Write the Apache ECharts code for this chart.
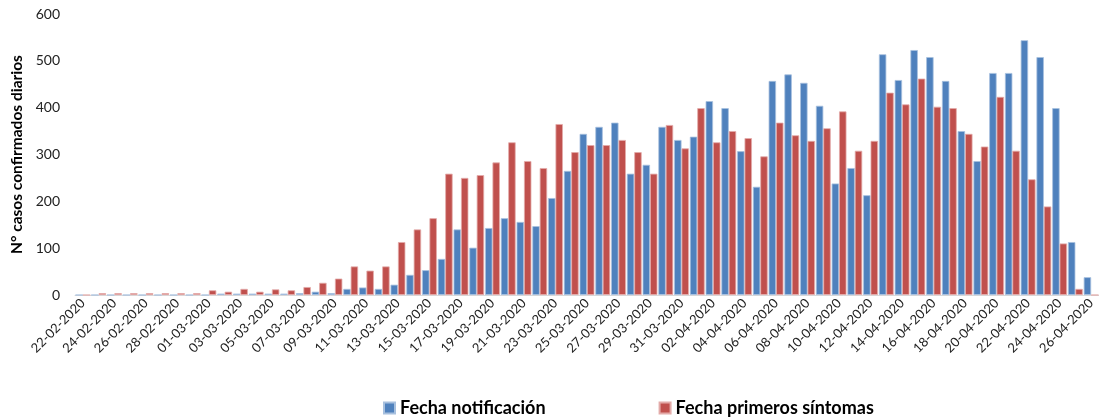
<!DOCTYPE html>
<html>
<head>
<meta charset="utf-8">
<script src="https://cdn.jsdelivr.net/npm/echarts@6/dist/echarts.min.js"></script>
<style>
html,body{margin:0;padding:0;background:#fff;}
#chart{width:1099px;height:419px;}
</style>
</head>
<body>
<div id="chart"></div>
<script>
const categories = [
'22-02-2020','23-02-2020','24-02-2020','25-02-2020','26-02-2020','27-02-2020','28-02-2020','29-02-2020',
'01-03-2020','02-03-2020','03-03-2020','04-03-2020','05-03-2020','06-03-2020','07-03-2020','08-03-2020',
'09-03-2020','10-03-2020','11-03-2020','12-03-2020','13-03-2020','14-03-2020','15-03-2020','16-03-2020',
'17-03-2020','18-03-2020','19-03-2020','20-03-2020','21-03-2020','22-03-2020','23-03-2020','24-03-2020',
'25-03-2020','26-03-2020','27-03-2020','28-03-2020','29-03-2020','30-03-2020','31-03-2020',
'01-04-2020','02-04-2020','03-04-2020','04-04-2020','05-04-2020','06-04-2020','07-04-2020','08-04-2020',
'09-04-2020','10-04-2020','11-04-2020','12-04-2020','13-04-2020','14-04-2020','15-04-2020','16-04-2020',
'17-04-2020','18-04-2020','19-04-2020','20-04-2020','21-04-2020','22-04-2020','23-04-2020','24-04-2020',
'25-04-2020','26-04-2020'
];
const fechaNotificacion = [
0,0,0,0,0,0,0,0,
0,3,3,3,3,3,4,7,
4,13,16,13,22,43,53,77,
140,101,143,164,156,147,207,265,
344,359,368,259,278,359,331,
338,414,399,307,231,457,471,453,
404,238,271,213,514,459,523,508,
457,350,286,474,474,544,508,399,
113,38
];
const fechaSintomas = [
0,4,4,4,4,4,4,4,
10,7,13,7,12,10,17,26,
35,61,52,61,113,140,164,259,
250,256,283,326,286,271,365,305,
320,320,331,305,259,363,313,
399,326,350,335,296,368,341,329,
356,392,308,329,432,407,462,402,
399,344,317,423,308,247,189,110,
13,0
];
const yTicks = [0,100,200,300,400,500,600];

const chart = echarts.init(document.getElementById('chart'), null, {renderer:'canvas'});
const FONT = 'Lato, "Open Sans", "DejaVu Sans", sans-serif';
chart.setOption({
  animation:false,
  backgroundColor:'#ffffff',
  textStyle:{fontFamily:FONT},
  grid:{left:75, top:14, width:1029, height:281, containLabel:false},
  legend:{
    left:378, top:394, itemWidth:11, itemHeight:11, itemGap:113, icon:'rect',
    textStyle:{fontFamily:FONT, fontSize:18, fontWeight:'bold', color:'#000'},
    data:['Fecha notificación','Fecha primeros síntomas']
  },
  xAxis:{
    type:'category', data:categories,
    axisLine:{lineStyle:{color:'#D9D9D9', width:1}},
    axisTick:{show:false},
    axisLabel:{interval:1, rotate:45, fontSize:13, color:'#222', margin:6, fontFamily:FONT}
  },
  yAxis:{
    type:'value', min:yTicks[0], max:yTicks[yTicks.length-1], interval:100,
    name:'N° casos confirmados diarios', nameLocation:'middle', nameGap:50,
    nameTextStyle:{fontFamily:FONT, fontSize:15.5, fontWeight:'bold', color:'#000'},
    axisLine:{show:false}, axisTick:{show:false}, splitLine:{show:false},
    axisLabel:{fontSize:14, color:'#222', margin:15, fontFamily:FONT}
  },
  series:[
    {name:'Fecha notificación', type:'bar', data:fechaNotificacion, barGap:'0%', barCategoryGap:'6%',
     itemStyle:{color:'#4F81BD', borderColor:'#A7C0DE', borderWidth:0.8}},
    {name:'Fecha primeros síntomas', type:'bar', data:fechaSintomas, barGap:'0%', barCategoryGap:'6%',
     itemStyle:{color:'#C0504D', borderColor:'#E3ABA9', borderWidth:0.8}}
  ]
});
</script>
</body>
</html>
